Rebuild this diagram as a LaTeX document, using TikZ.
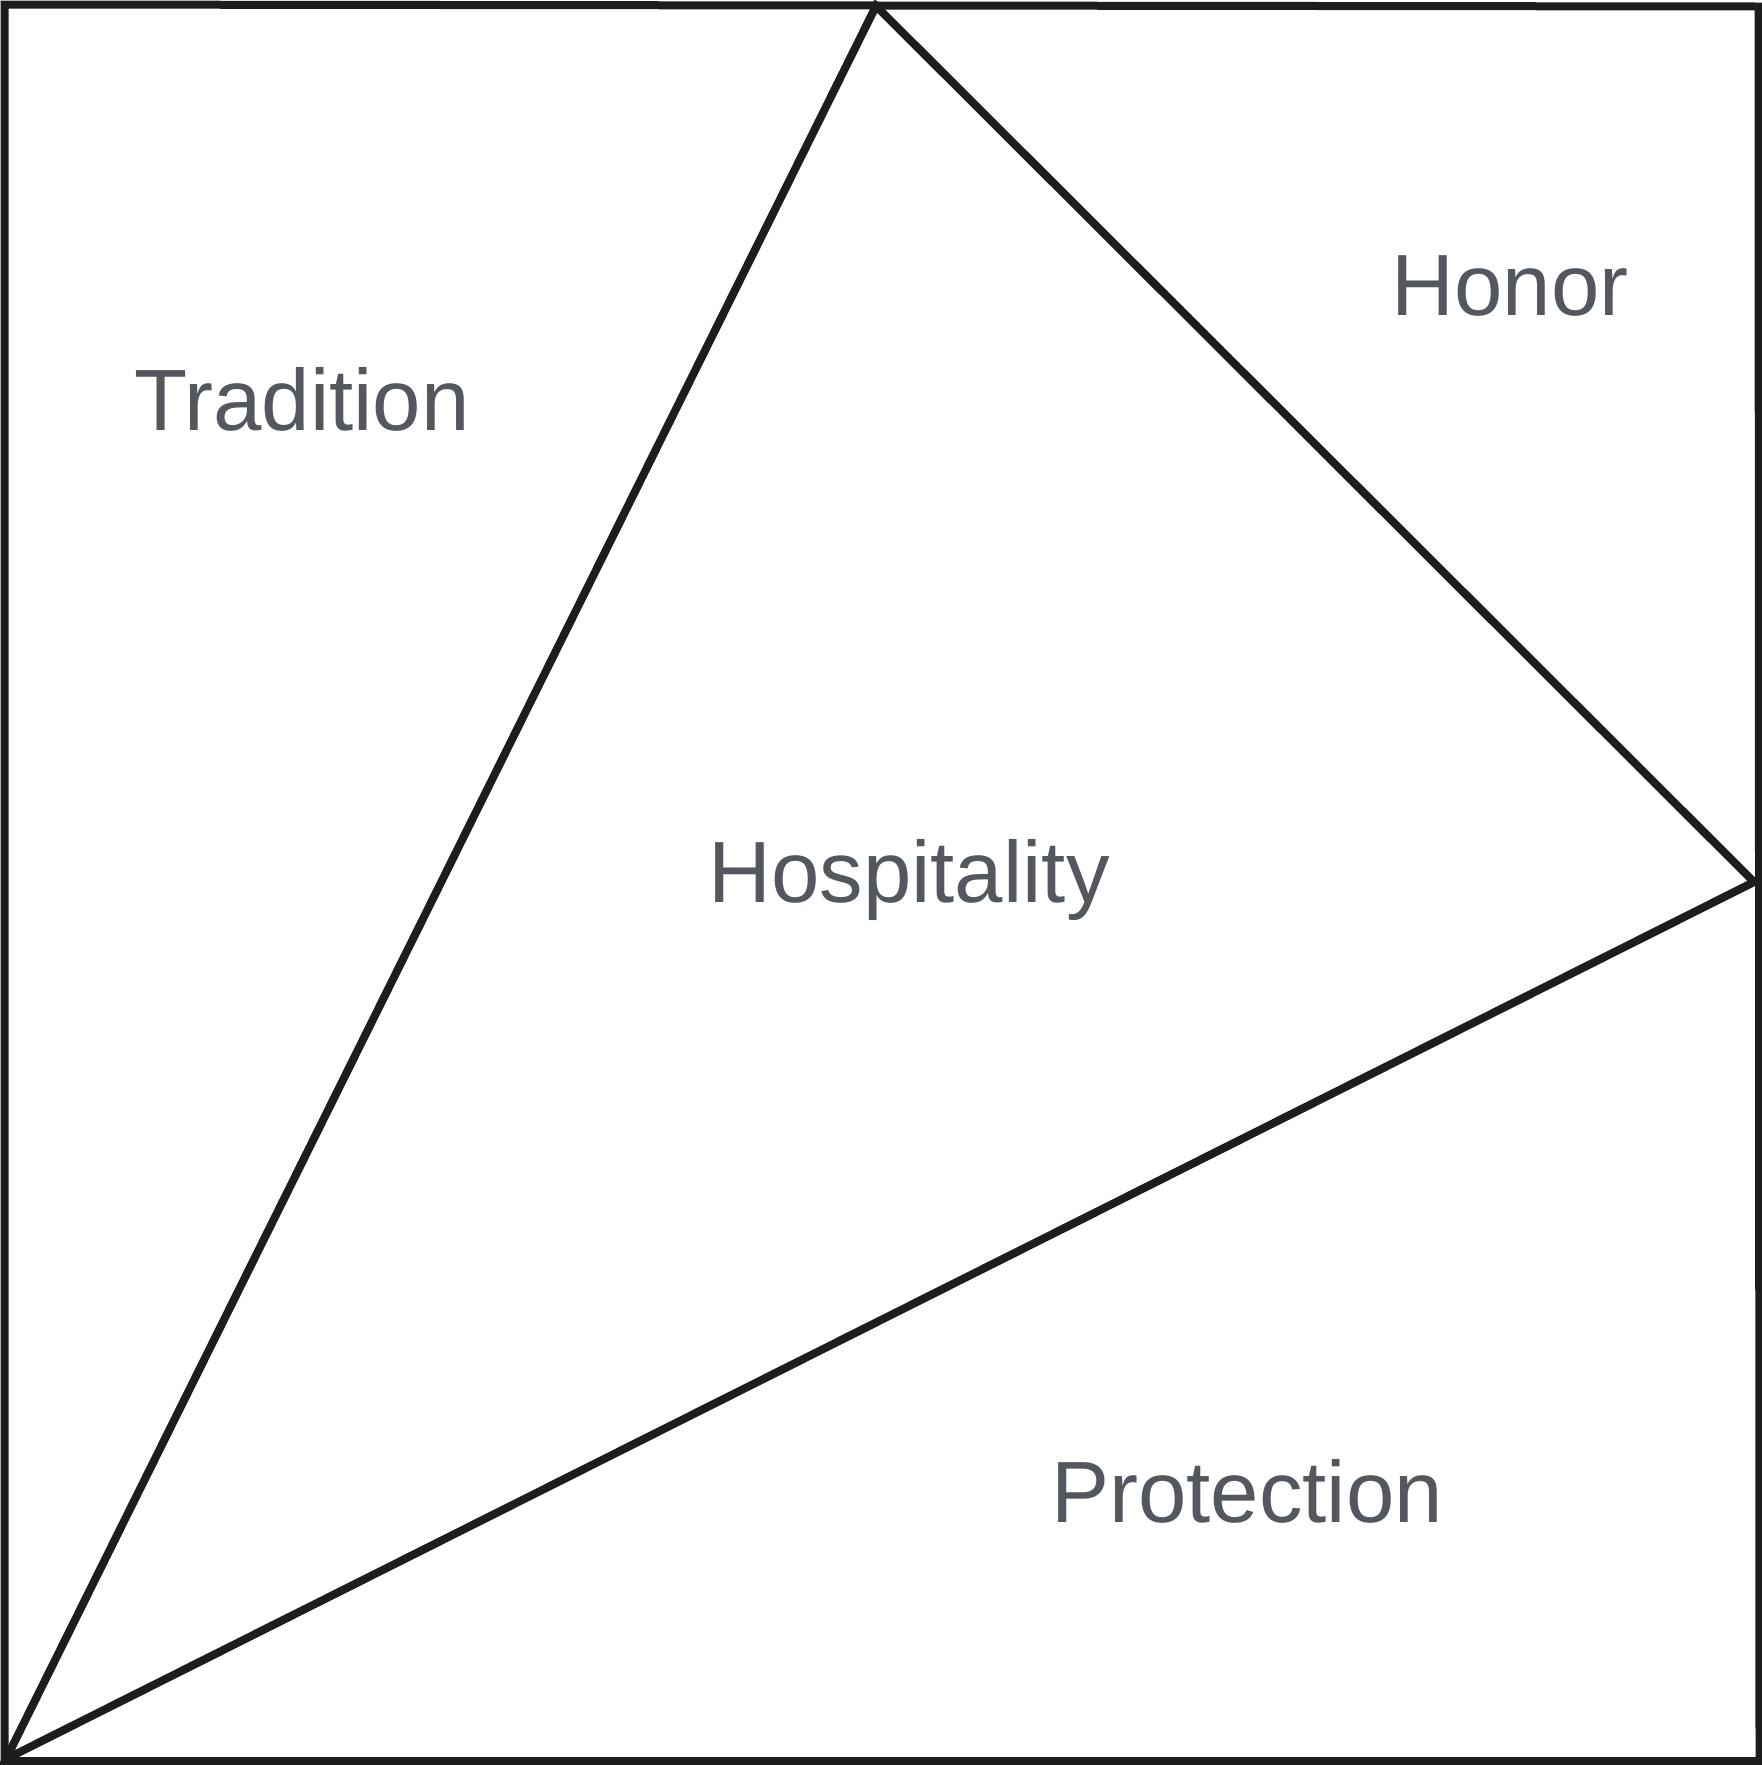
\documentclass[tikz,border=0pt]{standalone}
\usepackage{fontspec}
\setmainfont{Liberation Sans}
\definecolor{labelgray}{HTML}{53575E}
\definecolor{linedark}{HTML}{1C1D1F}
\begin{document}
\begin{tikzpicture}[x=1pt,y=-1pt,
  edge/.style={draw=linedark,line width=8pt,line join=miter},
  lbl/.style={text=labelgray,font=\fontsize{87}{100}\selectfont,anchor=base,inner sep=0pt}]
\useasboundingbox (0,0) rectangle (1762,1765);
\coordinate (tl) at (4.5,4.5);
\coordinate (tr) at (1758.5,6.5);
\coordinate (br) at (1759.5,1761);
\coordinate (bl) at (4.5,1761);
\coordinate (apex) at (876,6);
\coordinate (rp) at (1754,882);
\coordinate (v) at (6,1759);
\draw[edge] (tl) -- (tr) -- (br) -- (bl) -- cycle;
\draw[edge] (v) -- (apex) -- (rp) -- cycle;
\node[lbl] (tradition) at (302,430) {Tradition};
\node[lbl] (honor) at (1510,315) {Honor};
\node[lbl] (hospitality) at (909,902) {Hospitality};
\node[lbl] (protection) at (1247,1522) {Protection};
\end{tikzpicture}
\end{document}
